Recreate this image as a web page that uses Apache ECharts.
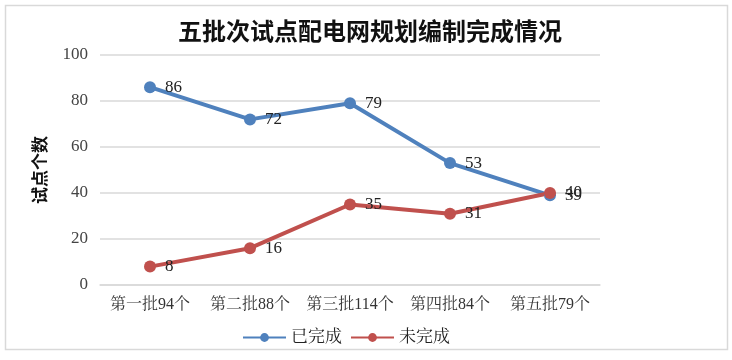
<!DOCTYPE html>
<html><head><meta charset="utf-8">
<script src="https://cdn.jsdelivr.net/npm/echarts@6/dist/echarts.min.js"></script>
<style>html,body{margin:0;padding:0;background:#fff}#c{width:732px;height:360px}</style>
</head><body><div id="c"></div>
<script>
var categories = ['第一批94个','第二批88个','第三批114个','第四批84个','第五批79个'];
var completed = [86, 72, 79, 53, 39];
var notCompleted = [8, 16, 35, 31, 40];
var seriesNames = ['已完成','未完成'];
var yTicks = [0, 20, 40, 60, 80, 100];

var serif = '"Liberation Serif","Noto Serif CJK SC","Noto Sans CJK SC",serif';
var chart = echarts.init(document.getElementById('c'));
chart.setOption({
  animation: false,
  title: {text: '五批次试点配电网规划编制完成情况', left: 365, textAlign: 'center', top: 14,
    textStyle: {fontSize: 24, fontWeight: 'bold', color: '#111', fontFamily: '"Noto Sans CJK SC",sans-serif'}},
  graphic: [{type: 'rect', shape: {x: 5.5, y: 5.5, width: 722, height: 344},
    style: {fill: 'none', stroke: '#d9d9d9', lineWidth: 1.5}, silent: true}],
  grid: {left: 100, right: 132, top: 55, bottom: 75},
  legend: {top: 324, left: 237, itemWidth: 43, itemHeight: 11, itemGap: 8,
    textStyle: {fontSize: 17, color: '#222', fontFamily: serif}, data: seriesNames},
  xAxis: {type: 'category', data: categories, boundaryGap: true,
    axisLine: {lineStyle: {color: '#d9d9d9', width: 1.5}}, axisTick: {show: false},
    axisLabel: {interval: 0, fontSize: 16, color: '#333', margin: 12, fontFamily: serif}},
  yAxis: {type: 'value', min: yTicks[0], max: yTicks[yTicks.length-1], interval: 20,
    name: '试点个数', nameLocation: 'middle', nameGap: 52, nameRotate: 90,
    nameTextStyle: {fontSize: 17, fontWeight: 'bold', color: '#111', fontFamily: '"Noto Sans CJK SC",sans-serif'},
    axisLine: {show: false}, axisTick: {show: false},
    axisLabel: {fontSize: 17, color: '#444', margin: 12, fontFamily: serif},
    splitLine: {lineStyle: {color: '#d9d9d9', width: 1.5}}},
  series: [
    {name: seriesNames[0], type: 'line', data: completed, symbol: 'circle', symbolSize: 12,
      lineStyle: {width: 4, color: '#4F81BD'}, itemStyle: {color: '#4F81BD'},
      label: {show: true, position: 'right', distance: 9, fontSize: 17, color: '#222', fontFamily: serif}},
    {name: seriesNames[1], type: 'line', data: notCompleted, symbol: 'circle', symbolSize: 12,
      lineStyle: {width: 4, color: '#C0504D'}, itemStyle: {color: '#C0504D'},
      label: {show: true, position: 'right', distance: 9, fontSize: 17, color: '#222', fontFamily: serif}}
  ]
});
</script></body></html>
